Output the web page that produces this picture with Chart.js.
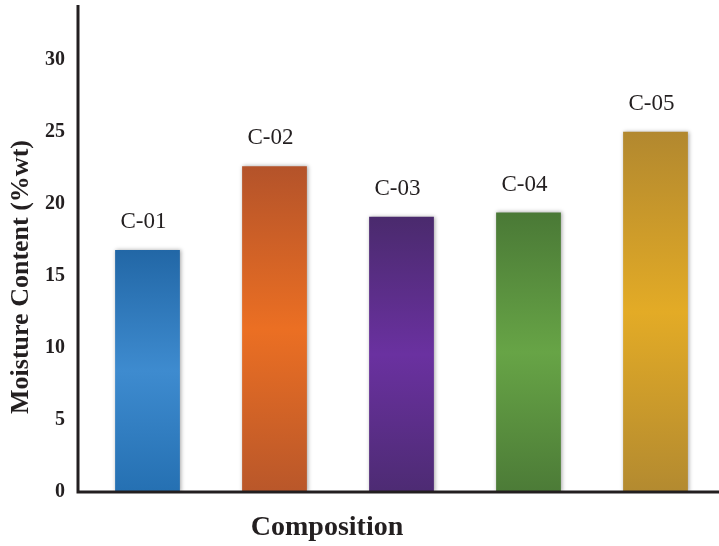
<!DOCTYPE html>
<html>

<head>
  <title>Moisture Content</title>
  <meta charset="utf-8">
  <script src="https://cdn.jsdelivr.net/npm/chart.js"></script>
  <style>
    body { margin: 0; background: #fff; }
    #wrap { width: 719px; height: 546px; position: relative; }
  </style>
</head>

<body>
  <div id="wrap">
    <canvas id="bar-chart"></canvas>
  </div>

  <script>
    var categories = ["C-01", "C-02", "C-03", "C-04", "C-05"]
    var moisture = [16.8, 22.6, 19.1, 19.4, 25.0]
    var yMax = 33.8
    var yStep = 5
    var xTitle = "Composition"
    var yTitle = "Moisture Content (%wt)"

    // top / middle / bottom colour of each bar
    var barTop = ["#2267a6", "#b4532a", "#4a2a6d", "#4a7936", "#b2882f"]
    var barMid = ["#3e8bcf", "#eb6f23", "#6a31a0", "#67a446", "#e3ab26"]
    var barBot = ["#2570b2", "#b9572a", "#4d2b73", "#4c7b37", "#b38a30"]

    var ink = "#231f20"

    function barFill(ctx) {
      var chart = ctx.chart
      var i = ctx.dataIndex
      if (!chart.chartArea || i === undefined) return barMid[i || 0]
      var y = chart.scales.y
      var top = y.getPixelForValue(moisture[i])
      var bot = y.getPixelForValue(0)
      var g = chart.ctx.createLinearGradient(0, top, 0, bot)
      g.addColorStop(0, barTop[i])
      g.addColorStop(0.5, barMid[i])
      g.addColorStop(1, barBot[i])
      return g
    }

    // soft shadow round the bars
    var barShadow = {
      id: "barShadow",
      beforeDatasetsDraw: function (chart) {
        var c = chart.ctx
        c.save()
        c.shadowColor = "rgba(0,0,0,0.35)"
        c.shadowBlur = 4
        c.shadowOffsetX = 1
      },
      afterDatasetsDraw: function (chart) {
        chart.ctx.restore()
      }
    }

    // axis lines (y line sits a little left of the first category),
    // category name above each bar, and both axis titles
    var extras = {
      id: "extras",
      afterDraw: function (chart) {
        var c = chart.ctx
        var a = chart.chartArea
        var x0 = a.left - 6
        c.save()
        c.strokeStyle = ink
        c.lineWidth = 3
        c.beginPath()
        c.moveTo(x0, a.top)
        c.lineTo(x0, a.bottom)
        c.lineTo(a.right, a.bottom)
        c.stroke()

        var bars = chart.getDatasetMeta(0).data
        c.fillStyle = ink
        c.textAlign = "center"
        c.textBaseline = "middle"
        c.font = "23px 'Liberation Serif'"
        for (var i = 0; i < bars.length; i++) {
          c.fillText(categories[i], bars[i].x - 4, bars[i].y - 28)
        }
        c.font = "bold 28px 'Liberation Serif'"
        c.fillText(xTitle, 327, 528)

        c.translate(21, 277)
        c.rotate(-Math.PI / 2)
        c.font = "bold 26px 'Liberation Serif'"
        c.fillText(yTitle, 0, 0)
        c.restore()
      }
    }

    new Chart(document.getElementById("bar-chart"), {
      type: "bar",
      data: {
        labels: categories,
        datasets: [{
          data: moisture,
          backgroundColor: barFill,
          borderWidth: 0,
          barPercentage: 0.51,
          categoryPercentage: 1
        }]
      },
      options: {
        responsive: true,
        maintainAspectRatio: false,
        animation: false,
        devicePixelRatio: 1,
        layout: { padding: { top: 5, right: 0, left: 0, bottom: 0 } },
        plugins: {
          legend: { display: false },
          tooltip: { enabled: false }
        },
        scales: {
          x: {
            grid: { display: false },
            border: { display: false },
            ticks: { display: false },
            afterFit: function (s) { s.height = 54 }
          },
          y: {
            min: 0,
            max: yMax,
            grid: { display: false },
            border: { display: false },
            ticks: {
              stepSize: yStep,
              includeBounds: false,
              padding: 11,
              color: ink,
              font: { family: "'Liberation Serif'", size: 20, weight: "bold" }
            },
            afterFit: function (s) {
              s.width = 84
              s.paddingTop = 0
              s.paddingBottom = 0
            }
          }
        }
      },
      plugins: [barShadow, extras]
    })
  </script>
</body>

</html>
